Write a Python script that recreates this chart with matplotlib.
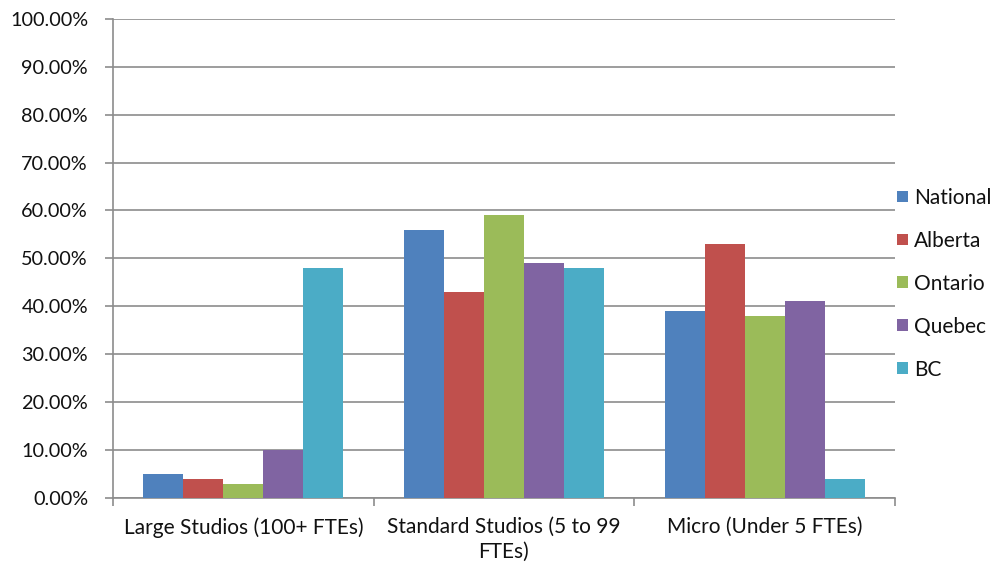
import matplotlib.pyplot as plt
import numpy as np

# studio size categories and regional shares (%)
categories = ['Large Studios (100+ FTEs)', 'Standard Studios (5 to 99\nFTEs)', 'Micro (Under 5 FTEs)']
regions = ['National', 'Alberta', 'Ontario', 'Quebec', 'BC']
national = [5, 56, 39]
alberta = [4, 43, 53]
ontario = [3, 59, 38]
quebec = [10, 49, 41]
bc = [48, 48, 4]
colors = ['#4F81BD', '#C0504D', '#9BBB59', '#8064A2', '#4BACC6']

plt.rcParams['font.family'] = ['Lato', 'DejaVu Sans']
fig = plt.figure(figsize=(10, 5.71), dpi=100)
ax = fig.add_axes([0.113, 0.128, 0.782, 0.839])

series = [national, alberta, ontario, quebec, bc]
x = np.arange(len(categories))
bar_w = 0.1535
for i, (name, vals) in enumerate(zip(regions, series)):
    ax.bar(x + (i - 2) * bar_w, vals, width=bar_w, color=colors[i], label=name, zorder=3)

ax.set_xlim(-0.5, len(categories) - 0.5)
ax.set_ylim(0, 100)
ax.set_yticks(np.arange(0, 101, 10))
ax.set_yticklabels(['%.2f%%' % v for v in np.arange(0, 101, 10)], fontsize=14.3, color='#111111')
ax.yaxis.grid(True, color='#8c8c8c', linewidth=1.2, zorder=0)

# category labels centred, tick marks on the group boundaries
ax.set_xticks(x)
ax.set_xticklabels(categories, fontsize=15, linespacing=1.3, color='#111111')
ax.set_xticks(np.arange(-0.5, len(categories)), minor=True)
ax.tick_params(axis='x', which='major', length=0, pad=14)
ax.tick_params(axis='x', which='minor', length=6, color='#8c8c8c', width=1.2)
ax.tick_params(axis='y', length=6, color='#8c8c8c', width=1.2, pad=12)

for side in ['top', 'right']:
    ax.spines[side].set_visible(False)
for side in ['left', 'bottom']:
    ax.spines[side].set_color('#8c8c8c')
    ax.spines[side].set_linewidth(1.2)

leg = fig.legend(loc='center left', bbox_to_anchor=(0.889, 0.503), frameon=False,
                 fontsize=15, handlelength=0.5, handleheight=0.5, handletextpad=0.3,
                 labelspacing=1.1, borderaxespad=0)
for t in leg.get_texts():
    t.set_color('#111111')

fig.savefig('out.png', dpi=100)
